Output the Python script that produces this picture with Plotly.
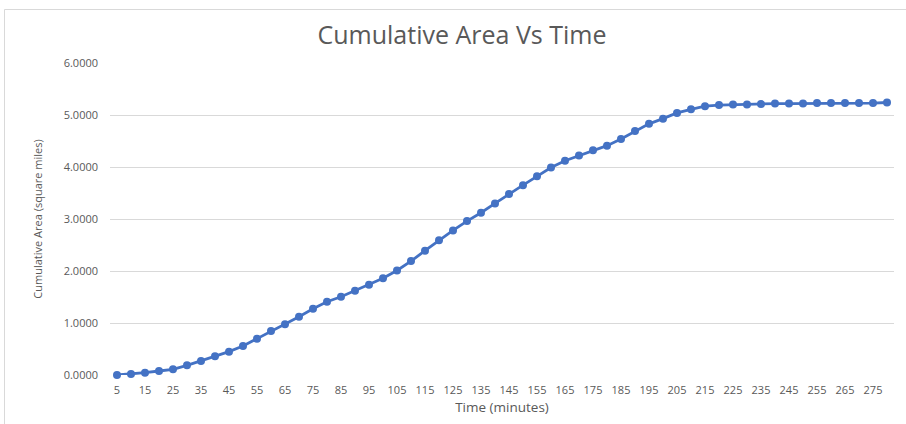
import plotly.graph_objects as go

# Time in minutes (5-minute steps) and cumulative area in square miles
time_min = list(range(5, 285, 5))
cum_area = [
    0.00, 0.02, 0.045, 0.077, 0.11, 0.186, 0.27, 0.359, 0.449, 0.558,
    0.699, 0.846, 0.974, 1.12, 1.274, 1.408, 1.504, 1.62, 1.735, 1.86,
    2.01, 2.19, 2.39, 2.59, 2.78, 2.96, 3.12, 3.30, 3.48, 3.65,
    3.82, 3.99, 4.12, 4.22, 4.32, 4.41, 4.54, 4.69, 4.83, 4.93,
    5.04, 5.11, 5.17, 5.19, 5.20, 5.20, 5.21, 5.22, 5.22, 5.22,
    5.23, 5.23, 5.23, 5.23, 5.23, 5.24,
]
x_ticks = list(range(5, 280, 10))
y_ticks = [0, 1, 2, 3, 4, 5, 6]

TEXT = "#595959"
GRID = "#d9d9d9"
BLUE = "#4472C4"
FONT = "Open Sans"

W, H = 906, 424
L, R, T, B = 110, 12, 63, 49

fig = go.Figure(
    go.Scatter(
        x=time_min,
        y=cum_area,
        mode="lines+markers",
        line=dict(color=BLUE, width=2.8),
        marker=dict(color=BLUE, size=8),
        cliponaxis=False,
        hoverinfo="x+y",
    )
)

fig.update_layout(
    width=W,
    height=H,
    margin=dict(l=L, r=R, t=T, b=B, pad=0),
    paper_bgcolor="white",
    plot_bgcolor="white",
    showlegend=False,
    font=dict(family=FONT, color=TEXT),
    title=dict(
        text="Cumulative Area Vs Time",
        x=462 / W,
        xref="container",
        xanchor="center",
        y=1 - 35 / H,
        yanchor="middle",
        font=dict(family=FONT, size=25, color=TEXT),
    ),
    xaxis=dict(
        range=[2.5, 282.5],
        tickvals=x_ticks,
        ticktext=[str(v) for v in x_ticks],
        tickfont=dict(size=11, color=TEXT),
        showgrid=False,
        zeroline=False,
        showline=False,
        ticklabelstandoff=7,
        title=dict(text="Time (minutes)", font=dict(size=13.5, color=TEXT), standoff=6),
    ),
    yaxis=dict(
        range=[0, 6],
        tickvals=y_ticks,
        ticktext=[f"{v:.4f}" for v in y_ticks],
        tickfont=dict(size=11, color=TEXT),
        showgrid=True,
        gridcolor=GRID,
        gridwidth=1,
        zeroline=False,
        showline=False,
        ticklabelstandoff=11,
        title=dict(
            text="Cumulative Area (square miles)",
            font=dict(size=11, color=TEXT),
            standoff=18,
        ),
    ),
)

# Outer chart frame (left and top edges visible, running off the page)
pw = W - L - R
ph = H - T - B
fig.add_shape(
    type="rect",
    xref="paper",
    yref="paper",
    x0=(4.5 - L) / pw,
    x1=(W + 20 - L) / pw,
    y0=-(B + 20) / ph,
    y1=(H - 9.5 - B) / ph,
    line=dict(color=GRID, width=1),
    fillcolor="rgba(0,0,0,0)",
    layer="below",
)

fig.write_html("out.html")
